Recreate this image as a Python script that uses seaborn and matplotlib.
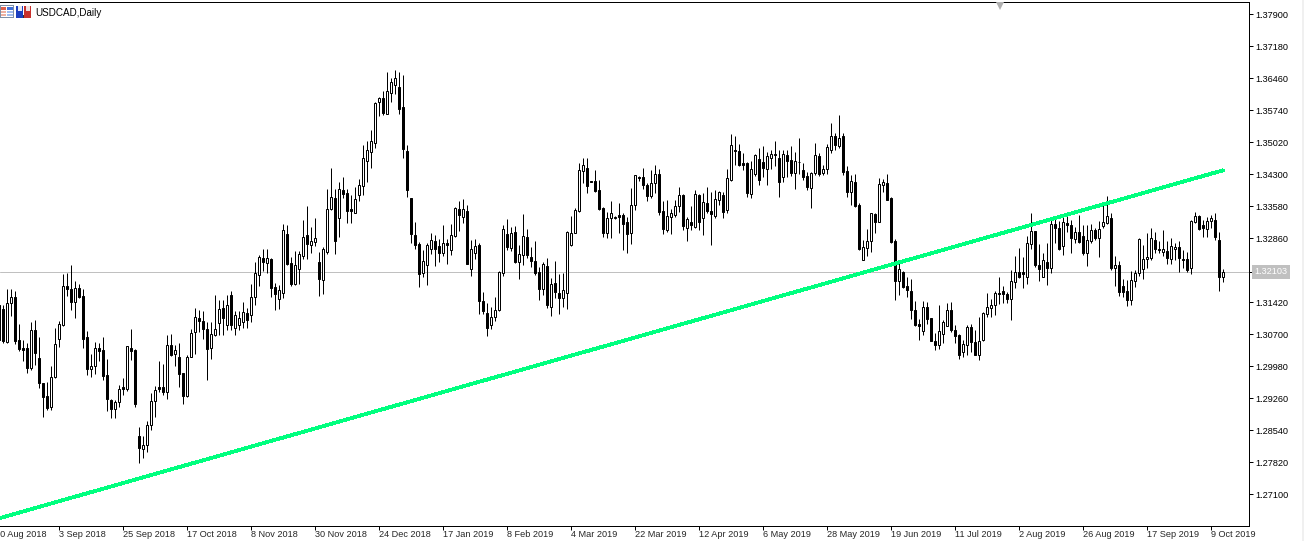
import numpy as np
import pandas as pd
import matplotlib
matplotlib.use("Agg")
import matplotlib.pyplot as plt
from matplotlib.patches import Rectangle
from matplotlib.transforms import blended_transform_factory
import seaborn as sns

# USDCAD daily candles, prices x 10000
highs = [
    13143,13136,13173,13173,13167,13093,13057,13050,13097,13102,
    13065,12960,12962,12999,13085,13101,13206,13207,13226,13189,
    13184,13173,13077,13025,13052,13050,13063,13014,12925,12922,
    12955,12971,13044,13081,13036,12861,12841,12876,12938,12954,
    13010,13003,13068,13070,13047,13050,12982,13023,13083,13130,
    13124,13122,13098,13098,13158,13147,13147,13158,13167,13122,
    13122,13142,13129,13183,13233,13248,13261,13262,13241,13185,
    13180,13318,13316,13243,13257,13257,13327,13359,13311,13332,
    13256,13266,13398,13444,13398,13413,13424,13398,13383,13401,
    13419,13496,13506,13530,13593,13605,13618,13660,13646,13664,
    13661,13653,13496,13377,13322,13278,13260,13275,13297,13293,
    13284,13317,13284,13318,13357,13370,13374,13361,13282,13284,
    13275,13165,13140,13132,13153,13213,13316,13329,13312,13314,
    13271,13340,13308,13267,13280,13222,13232,13241,13197,13235,
    13206,13207,13302,13336,13355,13455,13467,13467,13416,13440,
    13417,13356,13346,13370,13337,13365,13343,13335,13399,13429,
    13427,13445,13410,13440,13451,13442,13371,13373,13352,13373,
    13401,13385,13333,13359,13395,13385,13388,13401,13391,13395,
    13393,13391,13442,13521,13517,13499,13478,13457,13460,13475,
    13489,13494,13481,13484,13505,13485,13484,13484,13493,13481,
    13512,13455,13436,13436,13500,13479,13451,13498,13545,13523,
    13564,13524,13449,13429,13430,13365,13283,13307,13344,13343,
    13421,13419,13430,13378,13284,13238,13213,13198,13195,13144,
    13104,13145,13142,13106,13073,13135,13103,13140,13143,13091,
    13071,13058,13091,13094,13080,13109,13121,13164,13149,13168,
    13199,13179,13166,13214,13247,13264,13245,13292,13343,13303,
    13273,13253,13275,13329,13335,13326,13334,13344,13328,13311,
    13338,13316,13316,13318,13309,13324,13364,13382,13344,13247,
    13235,13194,13193,13213,13215,13286,13271,13299,13310,13301,
    13279,13305,13279,13286,13275,13279,13260,13256,13328,13346,
    13338,13328,13335,13339,13344,13301,13217,
]
lows = [
    13053,13050,13050,13111,13048,13033,13011,12984,12990,13001,
    12949,12885,12900,12900,12972,13042,13088,13156,13124,13106,
    13151,13039,12978,12974,12981,13011,12967,12898,12882,12882,
    12907,12933,12943,13012,12907,12781,12792,12806,12855,12885,
    12941,12933,12924,13022,12998,12952,12914,12930,13018,13026,
    13075,13059,12968,13014,13067,13068,13068,13080,13080,13068,
    13080,13084,13084,13098,13136,13179,13212,13207,13155,13125,
    13128,13152,13226,13179,13181,13184,13239,13239,13252,13269,
    13157,13161,13251,13350,13251,13289,13376,13321,13320,13344,
    13371,13383,13413,13445,13489,13562,13563,13565,13593,13610,
    13566,13467,13380,13276,13263,13177,13200,13181,13251,13224,
    13232,13247,13228,13248,13290,13302,13320,13229,13201,13240,
    13116,13115,13067,13082,13101,13123,13201,13260,13258,13230,
    13194,13226,13242,13222,13203,13147,13158,13130,13111,13152,
    13116,13132,13127,13269,13298,13345,13411,13389,13413,13390,
    13350,13290,13286,13287,13330,13299,13260,13253,13274,13350,
    13414,13397,13371,13376,13388,13339,13296,13301,13295,13335,
    13346,13304,13280,13304,13310,13305,13294,13343,13271,13331,
    13361,13332,13342,13416,13451,13448,13439,13380,13376,13427,
    13405,13425,13407,13443,13448,13378,13412,13425,13427,13398,
    13431,13418,13394,13355,13429,13427,13428,13431,13479,13484,
    13490,13429,13380,13361,13356,13260,13238,13247,13256,13299,
    13322,13391,13373,13275,13148,13159,13174,13154,13104,13089,
    13058,13069,13093,13055,13035,13037,13050,13088,13076,13050,
    13015,13020,13024,13031,13024,13013,13056,13109,13110,13114,
    13139,13140,13140,13103,13174,13196,13175,13184,13263,13221,
    13191,13199,13181,13209,13275,13260,13249,13301,13254,13275,
    13275,13249,13223,13275,13283,13245,13309,13319,13214,13178,
    13157,13155,13133,13136,13176,13202,13194,13219,13238,13253,
    13253,13247,13229,13229,13238,13211,13219,13211,13205,13320,
    13304,13290,13290,13309,13283,13168,13188,
]
opens = [
    13136,13127,13053,13140,13153,13057,13039,13039,12994,13079,
    13017,12960,12931,12907,12974,13060,13090,13178,13173,13143,
    13174,13157,13063,12992,12998,13040,13034,12978,12922,12902,
    12918,12951,12947,13040,13034,12841,12813,12822,12867,12921,
    12951,12951,12941,13047,13026,13020,12982,12932,13020,13076,
    13106,13101,13083,13040,13069,13095,13129,13091,13158,13084,
    13091,13098,13118,13113,13153,13203,13241,13230,13239,13176,
    13150,13164,13296,13230,13184,13218,13247,13293,13270,13278,
    13232,13193,13256,13352,13377,13332,13395,13387,13352,13344,
    13384,13404,13461,13481,13501,13592,13601,13566,13614,13632,
    13626,13581,13482,13376,13293,13273,13209,13227,13261,13280,
    13268,13254,13275,13260,13291,13352,13335,13347,13218,13254,
    13272,13145,13119,13090,13110,13125,13209,13296,13265,13300,
    13233,13249,13289,13243,13236,13210,13172,13223,13132,13185,
    13163,13152,13164,13270,13299,13347,13437,13444,13416,13415,
    13395,13354,13299,13331,13331,13338,13339,13322,13297,13361,
    13424,13424,13406,13382,13410,13430,13347,13304,13333,13339,
    13358,13384,13309,13322,13311,13384,13331,13365,13347,13337,
    13372,13383,13349,13418,13484,13482,13455,13455,13385,13430,
    13464,13458,13443,13466,13475,13466,13424,13473,13463,13434,
    13458,13440,13427,13399,13433,13471,13434,13443,13484,13517,
    13494,13517,13438,13390,13413,13361,13238,13265,13280,13341,
    13323,13405,13410,13377,13280,13189,13211,13179,13167,13125,
    13093,13078,13132,13106,13055,13046,13070,13089,13125,13080,
    13069,13031,13047,13086,13052,13024,13058,13116,13130,13135,
    13163,13167,13161,13149,13187,13210,13210,13199,13273,13302,
    13226,13199,13232,13219,13318,13309,13268,13320,13316,13285,
    13300,13291,13252,13279,13305,13286,13313,13321,13331,13220,
    13226,13178,13167,13148,13191,13207,13218,13239,13241,13282,
    13263,13256,13258,13239,13262,13266,13240,13240,13220,13322,
    13336,13316,13306,13326,13327,13282,13200,
]
closes = [
    13057,13055,13140,13153,13056,13036,13035,12994,13079,13027,
    12960,12928,12905,12975,13049,13094,13178,13172,13143,13175,
    13154,13060,12992,12998,13040,13033,12977,12925,12902,12917,
    12948,12947,13043,13033,12914,12815,12820,12867,12921,12944,
    12947,12941,13047,13024,13034,12981,12932,13020,13074,13108,
    13100,13082,13038,13070,13083,13128,13107,13136,13091,13113,
    13107,13120,13102,13154,13207,13245,13233,13241,13175,13161,
    13169,13304,13228,13184,13227,13250,13290,13274,13281,13286,
    13195,13261,13351,13378,13281,13396,13386,13348,13348,13374,
    13405,13466,13484,13504,13590,13601,13568,13617,13637,13646,
    13578,13486,13395,13296,13272,13206,13234,13270,13283,13263,
    13254,13275,13270,13293,13354,13338,13352,13229,13261,13269,
    13146,13123,13085,13108,13124,13210,13306,13267,13299,13233,
    13251,13292,13249,13235,13207,13172,13229,13136,13184,13166,
    13152,13169,13300,13299,13349,13440,13452,13404,13413,13392,
    13353,13299,13331,13344,13335,13335,13319,13295,13361,13428,
    13422,13405,13382,13410,13430,13346,13306,13336,13344,13358,
    13383,13313,13330,13315,13385,13322,13367,13348,13340,13374,
    13391,13346,13421,13496,13483,13451,13452,13387,13442,13473,
    13418,13445,13471,13475,13473,13412,13475,13461,13434,13460,
    13457,13425,13402,13433,13473,13430,13442,13491,13516,13497,
    13511,13435,13391,13415,13358,13261,13266,13280,13343,13323,
    13408,13412,13373,13278,13189,13217,13177,13169,13124,13091,
    13088,13132,13104,13056,13045,13078,13098,13124,13079,13066,
    13024,13049,13086,13052,13024,13055,13118,13131,13137,13163,
    13161,13161,13150,13190,13210,13199,13205,13275,13302,13226,
    13218,13237,13220,13318,13310,13262,13322,13317,13286,13301,
    13277,13252,13282,13304,13286,13308,13322,13336,13220,13226,
    13166,13166,13148,13193,13208,13285,13239,13243,13286,13263,
    13259,13262,13241,13268,13266,13241,13238,13215,13325,13336,
    13306,13309,13325,13331,13288,13198,13210,
]

priceLevels = [1.37900, 1.37180, 1.36460, 1.35740, 1.35020, 1.34300, 1.33580, 1.32860,
               1.31420, 1.30700, 1.29980, 1.29260, 1.28540, 1.27820, 1.27100]
lastPrice = 1.32103
dateLabels = ["10 Aug 2018", "3 Sep 2018", "25 Sep 2018", "17 Oct 2018", "8 Nov 2018",
              "30 Nov 2018", "24 Dec 2018", "17 Jan 2019", "8 Feb 2019", "4 Mar 2019",
              "22 Mar 2019", "12 Apr 2019", "6 May 2019", "28 May 2019", "19 Jun 2019",
              "11 Jul 2019", "2 Aug 2019", "26 Aug 2019", "17 Sep 2019", "9 Oct 2019"]
trendBars = [0, 306]
trendPrices = [1.26560, 1.34390]

FONT = "Liberation Sans"
FONT_SIZE = 6.6
W, H = 1304, 541
PX = 0.72  # one pixel in points at dpi 100


def addIcons(fig):
    # the two small toolbar icons in the top left corner
    def box(x, y, w, h, color):
        fig.add_artist(Rectangle((x / W, 1 - (y + h) / H), w / W, h / H, color=color,
                                 transform=fig.transFigure, lw=0))
    box(0, 5, 14, 13, "#7f8fa6")
    box(1, 6, 12, 11, "#ffffff")
    box(1, 7, 5, 3, "#e0604c")
    box(1, 11, 5, 2, "#eeb0a0")
    box(1, 14, 5, 2, "#eeb0a0")
    box(7, 7, 6, 3, "#3f6fd8")
    box(7, 11, 6, 2, "#a0bcf0")
    box(7, 14, 6, 2, "#a0bcf0")
    box(16, 6, 7, 12, "#1c3fc0")
    box(24, 6, 7, 12, "#c8302c")
    box(18, 6, 4, 5, "#e8e8f0")
    box(26, 6, 4, 5, "#f0e0e0")
    box(23, 15, 1, 3, "#303030")


def main():
    sns.set_style("white")
    plt.rcParams["font.family"] = [FONT, "DejaVu Sans"]

    df = pd.DataFrame({"open": opens, "high": highs, "low": lows, "close": closes}) / 10000
    df["bar"] = np.arange(len(df))
    df["up"] = df["close"] >= df["open"]
    trend = pd.DataFrame({"bar": trendBars, "price": trendPrices})

    fig = plt.figure(figsize=(W / 100, H / 100), dpi=100, facecolor="white")
    fig.add_artist(Rectangle((1302 / W, 0), 2 / W, 1, color="#f0f0f0", lw=0,
                             transform=fig.transFigure))
    ax = fig.add_axes([0, 1 - 526 / H, 1249 / W, (526 - 2) / H])
    ax.set_facecolor("white")

    ax.axhline(lastPrice, color="#c0c0c0", lw=PX, zorder=1)
    ax.vlines(df["bar"], df["low"], df["high"], color="black", lw=PX, zorder=2)
    body = (df["close"] - df["open"]).abs().clip(lower=0.00004)
    bottom = df[["open", "close"]].min(axis=1)
    colors = np.where(df["up"], "white", "black")
    ax.bar(df["bar"], body, bottom=bottom, width=0.5, color=colors, edgecolor="black",
           linewidth=PX, zorder=3)
    sns.lineplot(data=trend, x="bar", y="price", color="#00ff7f", lw=2.0, ax=ax, zorder=4,
                 errorbar=None, legend=False, antialiased=False)

    ax.set_xlim(0.25, 312.5)
    ax.set_ylim(1.26387, 1.38177)
    ax.set_xlabel("")
    ax.set_ylabel("")

    for side in ["top", "right", "bottom"]:
        ax.spines[side].set_visible(True)
        ax.spines[side].set_linewidth(PX)
        ax.spines[side].set_color("black")
    ax.spines["left"].set_visible(False)

    # date ticks every 16 bars, labels start at the tick and the first one is cut by the edge
    tickBars = [15 + 16 * n for n in range(len(dateLabels) - 1)]
    ax.set_xticks(tickBars)
    ax.set_xticklabels([])
    ax.yaxis.tick_right()
    ax.set_yticks(priceLevels + [lastPrice])
    ax.set_yticklabels([f"{p:.5f}" for p in priceLevels] + [""], fontsize=FONT_SIZE, color="black")
    ax.tick_params(axis="both", length=3, width=PX, color="black", pad=1.4, bottom=True, right=True)

    for bar, label in zip([-1] + tickBars, dateLabels):
        ax.annotate(label, xy=(bar, 0), xycoords=("data", "axes fraction"), xytext=(0.2, -3.2),
                    textcoords="offset points", ha="left", va="top", fontsize=FONT_SIZE,
                    annotation_clip=False)

    axisTrans = blended_transform_factory(ax.transAxes, ax.transData)
    ax.text(1 + 5.5 / 1249, lastPrice, f"{lastPrice:.5f}", transform=axisTrans, ha="left", va="center",
            fontsize=FONT_SIZE, color="white", clip_on=False,
            bbox=dict(boxstyle="square,pad=0.3", fc="#c0c0c0", ec="none"))

    # shift marker hanging from the top border
    ax.plot([999.5 / 1249], [0.992], marker="v", ms=5.5, color="#b0b0b0", mew=0,
            transform=ax.transAxes, clip_on=False, zorder=5)

    addIcons(fig)
    fig.text(35.5 / W, 1 - 12.5 / H, "USDCAD,Daily", fontsize=7.1, va="center", ha="left", color="black")

    fig.savefig("out.png", dpi=100, facecolor="white")


if __name__ == "__main__":
    main()
